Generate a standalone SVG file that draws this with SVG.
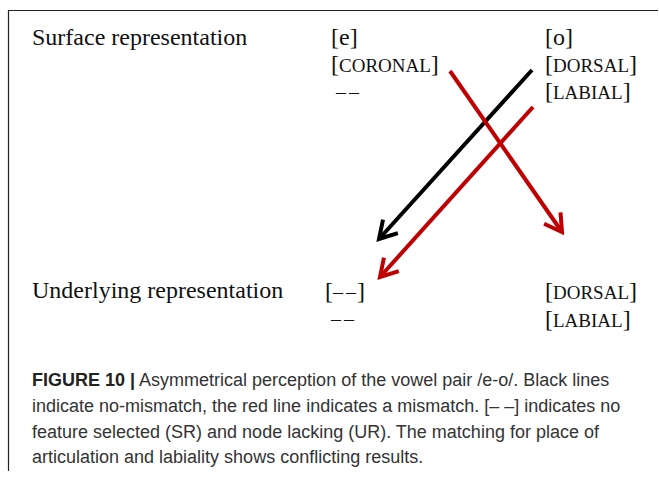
<svg xmlns="http://www.w3.org/2000/svg" width="659" height="477" viewBox="0 0 659 477">
<style>
.serif{font-family:"Liberation Serif","Times New Roman",serif;font-size:24px;fill:#111}
.sc{font-size:19px}
.dash{font-size:20px;letter-spacing:3px}
.d2{font-size:20px;letter-spacing:1px}
.cap{font-family:"Liberation Sans",Arial,sans-serif;font-size:18px;fill:#333}
.capb{font-weight:bold;fill:#222}
.frame{fill:none;stroke:#222;stroke-width:1.2}
.conn{fill:none;stroke-width:4}
.blk{stroke:#000}
.red{stroke:#c00000}
</style>
<defs>
<marker id="ahB" markerUnits="userSpaceOnUse" markerWidth="30" markerHeight="30" viewBox="-20 -15 30 30" refX="0" refY="0" orient="auto">
<path d="M-17,-10 L0,0 L-17,10" fill="none" stroke="#000" stroke-width="4"/>
</marker>
<marker id="ahR" markerUnits="userSpaceOnUse" markerWidth="30" markerHeight="30" viewBox="-20 -15 30 30" refX="0" refY="0" orient="auto">
<path d="M-17,-10 L0,0 L-17,10" fill="none" stroke="#c00000" stroke-width="4"/>
</marker>
</defs>
<rect width="659" height="477" fill="#fff"/>
<path class="frame" d="M8.5,471 V10.5 H658"/>

<g id="sr-label"><text class="serif" x="32" y="45">Surface representation</text></g>
<g id="sr-e">
<text class="serif" x="331" y="45">[e]</text>
<text class="serif" x="331" y="72">[<tspan class="sc">CORONAL</tspan>]</text>
<text class="serif dash" x="336" y="99">––</text>
</g>
<g id="sr-o">
<text class="serif" x="545" y="45">[o]</text>
<text class="serif" x="545" y="72">[<tspan class="sc">DORSAL</tspan>]</text>
<text class="serif" x="545" y="99">[<tspan class="sc">LABIAL</tspan>]</text>
</g>

<g id="ur-label"><text class="serif" x="32" y="298">Underlying representation</text></g>
<g id="ur-e">
<text class="serif" x="325" y="299">[<tspan class="dash">–</tspan><tspan class="d2">–</tspan>]</text>
<text class="serif dash" x="331" y="326">––</text>
</g>
<g id="ur-o">
<text class="serif" x="545" y="299">[<tspan class="sc">DORSAL</tspan>]</text>
<text class="serif" x="545" y="327">[<tspan class="sc">LABIAL</tspan>]</text>
</g>

<g id="connectors">
<line class="conn blk" x1="532" y1="70" x2="379" y2="239" marker-end="url(#ahB)"/>
<line class="conn red" x1="450" y1="71" x2="562" y2="232" marker-end="url(#ahR)"/>
<line class="conn red" x1="533" y1="107" x2="380" y2="277" marker-end="url(#ahR)"/>
</g>

<g id="caption">
<text class="cap" x="32" y="386"><tspan class="capb">FIGURE 10 |</tspan> Asymmetrical perception of the vowel pair /e-o/. Black lines</text>
<text class="cap" x="32" y="412">indicate no-mismatch, the red line indicates a mismatch. [– –] indicates no</text>
<text class="cap" x="32" y="437.5">feature selected (SR) and node lacking (UR). The matching for place of</text>
<text class="cap" x="32" y="463">articulation and labiality shows conflicting results.</text>
</g>
</svg>
